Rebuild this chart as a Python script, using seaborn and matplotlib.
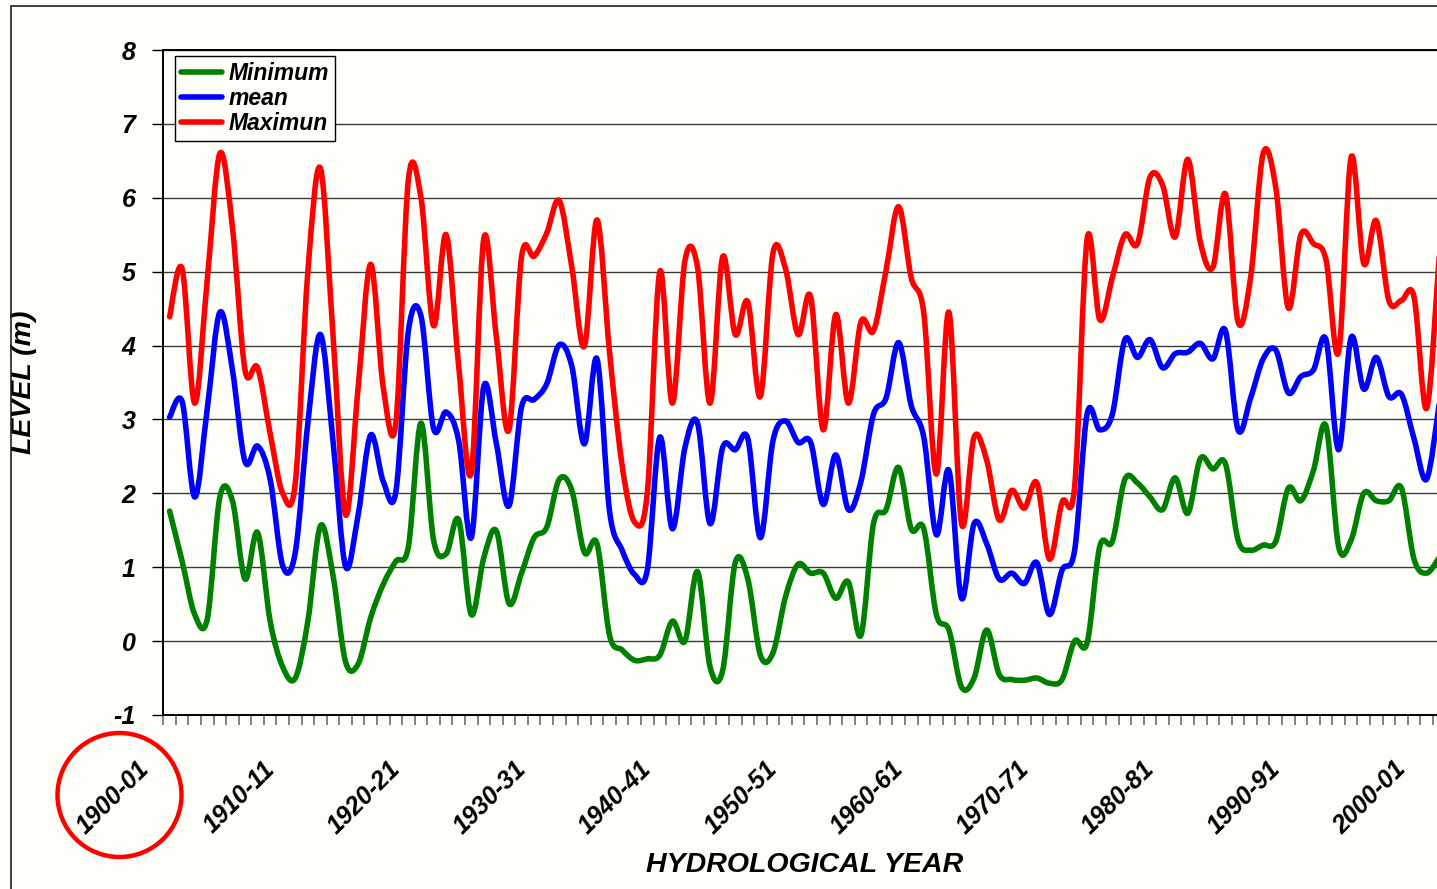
import numpy as np
import pandas as pd
import matplotlib
matplotlib.use("Agg")
import matplotlib.pyplot as plt
import matplotlib.transforms as mtransforms
from matplotlib.path import Path
from matplotlib.patches import PathPatch, Ellipse
from matplotlib.lines import Line2D
import seaborn as sns


# water level per hydrological year (m)
minimum = [1.76, 1.08, 0.36, 0.30, 1.95, 1.90, 0.84, 1.47, 0.27, -0.35,
           -0.50, 0.27, 1.56, 0.89, -0.28, -0.31, 0.32, 0.77, 1.08, 1.28,
           2.95, 1.37, 1.18, 1.64, 0.36, 1.13, 1.49, 0.51, 0.92, 1.40,
           1.54, 2.19, 2.04, 1.20, 1.32, 0.08, -0.12, -0.26, -0.24, -0.19,
           0.27, 0.00, 0.94, -0.35, -0.40, 1.06, 0.84, -0.19, -0.16, 0.60,
           1.04, 0.92, 0.92, 0.58, 0.80, 0.08, 1.59, 1.78, 2.35, 1.52,
           1.52, 0.36, 0.15, -0.62, -0.50, 0.15, -0.45, -0.52, -0.53, -0.50,
           -0.57, -0.52, 0.00, -0.02, 1.28, 1.35, 2.19, 2.14, 1.95, 1.78,
           2.21, 1.73, 2.47, 2.33, 2.40, 1.37, 1.23, 1.30, 1.35, 2.07,
           1.90, 2.31, 2.91, 1.28, 1.37, 2.00, 1.90, 1.90, 2.07, 1.11,
           0.92, 1.13]

mean = [3.03, 3.24, 1.95, 3.15, 4.45, 3.67, 2.43, 2.64, 2.19, 1.02,
        1.20, 2.95, 4.15, 2.71, 1.01, 1.71, 2.79, 2.16, 2.02, 4.20,
        4.40, 2.88, 3.10, 2.71, 1.40, 3.45, 2.67, 1.83, 3.17, 3.27,
        3.48, 4.01, 3.72, 2.67, 3.82, 1.76, 1.23, 0.90, 0.96, 2.76,
        1.52, 2.62, 2.95, 1.59, 2.62, 2.59, 2.74, 1.40, 2.71, 2.98,
        2.69, 2.69, 1.85, 2.52, 1.78, 2.16, 3.07, 3.29, 4.04, 3.19,
        2.76, 1.44, 2.31, 0.58, 1.59, 1.32, 0.84, 0.92, 0.78, 1.06,
        0.36, 0.96, 1.23, 3.08, 2.86, 3.07, 4.08, 3.84, 4.08, 3.70,
        3.89, 3.91, 4.03, 3.82, 4.20, 2.86, 3.29, 3.82, 3.94, 3.36,
        3.58, 3.67, 4.08, 2.59, 4.11, 3.41, 3.84, 3.31, 3.34, 2.74,
        2.19, 3.20]

maximum = [4.39, 5.04, 3.22, 4.90, 6.60, 5.60, 3.67, 3.70, 2.81, 2.00,
           2.14, 5.00, 6.40, 4.15, 1.71, 3.43, 5.10, 3.43, 2.95, 6.25,
           6.00, 4.27, 5.50, 3.72, 2.28, 5.45, 4.11, 2.86, 5.20, 5.21,
           5.52, 5.96, 5.06, 3.99, 5.70, 3.91, 2.38, 1.61, 2.00, 5.00,
           3.22, 5.15, 5.06, 3.22, 5.20, 4.15, 4.59, 3.31, 5.25, 5.04,
           4.15, 4.66, 2.86, 4.42, 3.22, 4.32, 4.20, 5.02, 5.88, 4.92,
           4.44, 2.26, 4.45, 1.59, 2.76, 2.45, 1.64, 2.04, 1.80, 2.14,
           1.11, 1.88, 2.09, 5.45, 4.35, 4.92, 5.50, 5.38, 6.28, 6.17,
           5.47, 6.52, 5.40, 5.06, 6.05, 4.32, 4.92, 6.60, 6.14, 4.51,
           5.50, 5.38, 5.16, 3.91, 6.55, 5.11, 5.69, 4.61, 4.61, 4.66,
           3.15, 5.20]

year_labels = ["1900-01", "1910-11", "1920-21", "1930-31", "1940-41", "1950-51",
               "1960-61", "1970-71", "1980-81", "1990-91", "2000-01"]

series_names = ["Minimum", "mean", "Maximun"]
series_colors = ["#008000", "#0000FF", "#FF0000"]

df = pd.DataFrame({"Minimum": minimum, "mean": mean, "Maximun": maximum})
df["idx"] = np.arange(len(df))

bg = "#FEFEF9"
sns.set_theme(style="white", rc={"axes.facecolor": bg, "figure.facecolor": bg,
                                 "text.color": "black", "axes.labelcolor": "black",
                                 "xtick.color": "black", "ytick.color": "black",
                                 "axes.unicode_minus": False})
plt.rcParams["font.family"] = ["Liberation Sans", "DejaVu Sans"]

W, H = 1437, 889
fig = plt.figure(figsize=(W / 100, H / 100), dpi=100)

# plot area in pixels
left_px, top_px, bottom_px, right_px = 163.3, 50, 715, 1437
step_px = 12.57
ax = fig.add_axes([left_px / W, 1 - bottom_px / H,
                   (right_px - left_px) / W, (bottom_px - top_px) / H])


def smooth_path(xs, ys):
    # excel-like smoothed line: catmull-rom drawn as cubic bezier
    n = len(xs)
    verts = [(xs[0], ys[0])]
    codes = [Path.MOVETO]
    for i in range(n - 1):
        a = max(i - 1, 0)
        b = min(i + 2, n - 1)
        c1 = (xs[i] + (xs[i + 1] - xs[a]) / 6, ys[i] + (ys[i + 1] - ys[a]) / 6)
        c2 = (xs[i + 1] - (xs[b] - xs[i]) / 6, ys[i + 1] - (ys[b] - ys[i]) / 6)
        verts += [c1, c2, (xs[i + 1], ys[i + 1])]
        codes += [Path.CURVE4] * 3
    return Path(verts, codes)


lw = 4.0
for name, col in zip(series_names, series_colors):
    p = smooth_path(df["idx"].values, df[name].values)
    ax.add_patch(PathPatch(p, fill=False, edgecolor=col, lw=lw,
                           capstyle="round", joinstyle="round", zorder=3))

x_right = -0.5 + (right_px - left_px) / step_px
ax.set_xlim(-0.5, x_right)
ax.set_ylim(-1, 8)

# y axis
ax.set_yticks(range(-1, 9))
ax.yaxis.grid(True, color="#3a3a3a", lw=1.0)
ax.xaxis.grid(False)
ax.tick_params(axis="y", direction="out", length=8, width=1, color="black",
               left=True, pad=12)
for lab in ax.get_yticklabels():
    lab.set_fontsize(18)
    lab.set_fontweight("bold")
    lab.set_fontstyle("italic")

# x axis: labels every 10 years, ticks at every category boundary
ax.set_xticks(np.arange(len(year_labels)) * 10)
ax.set_xticklabels(year_labels, rotation=45, ha="right", va="top",
                   rotation_mode="anchor", fontsize=18, fontweight="bold",
                   fontstyle="italic")
ax.tick_params(axis="x", which="major", length=0, pad=30)
ax.set_xticks(np.arange(len(df)) - 0.5, minor=True)
ax.tick_params(axis="x", which="minor", direction="out", length=7, width=1.2,
               color="#6e6e6e", bottom=True)
shift = mtransforms.ScaledTranslation(-33 / 100, 0, fig.dpi_scale_trans)
for lab in ax.get_xticklabels():
    lab.set_transform(lab.get_transform() + shift)

for s in ["left", "top", "bottom"]:
    ax.spines[s].set_color("black")
    ax.spines[s].set_linewidth(1.4)
ax.spines["right"].set_visible(False)

ax.set_ylabel("LEVEL (m)", fontsize=20.5, fontweight="bold", fontstyle="italic")
ax.yaxis.set_label_coords((37 - left_px) / (right_px - left_px), 0.5)
ax.set_xlabel("HYDROLOGICAL YEAR", fontsize=20.5, fontweight="bold",
              fontstyle="italic")
ax.xaxis.set_label_coords((805 - left_px) / (right_px - left_px),
                          -(865 - bottom_px) / (bottom_px - top_px))
ax.xaxis.label.set_va("center")

# legend
handles = [Line2D([0], [0], color=c, lw=lw, solid_capstyle="round")
           for c in series_colors]
leg = ax.legend(handles, series_names, loc="upper left",
                bbox_to_anchor=(175 / W, 1 - 56 / H), bbox_transform=fig.transFigure,
                borderaxespad=0, frameon=True, fancybox=False, framealpha=1,
                facecolor=bg, edgecolor="black", handlelength=1.8,
                handletextpad=0.3, labelspacing=0.1, borderpad=0.25,
                prop={"size": 16.5, "weight": "bold", "style": "italic"})
leg.get_frame().set_linewidth(1.0)
leg.set_zorder(5)

# outer chart border (cut at right and bottom)
fig.add_artist(Line2D([11 / W, 11 / W], [0, 1 - 5.5 / H], color="#222222", lw=1.2))
fig.add_artist(Line2D([11 / W, 1], [1 - 5.5 / H, 1 - 5.5 / H], color="#222222", lw=1.2))

# red circle around the first year label
fig.add_artist(Ellipse((119.5 / W, 1 - 795 / H), 124 / W, 124 / H,
                       transform=fig.transFigure, fill=False,
                       edgecolor="#FF0000", lw=3.2))

fig.savefig("out.png", dpi=100, facecolor=bg)
